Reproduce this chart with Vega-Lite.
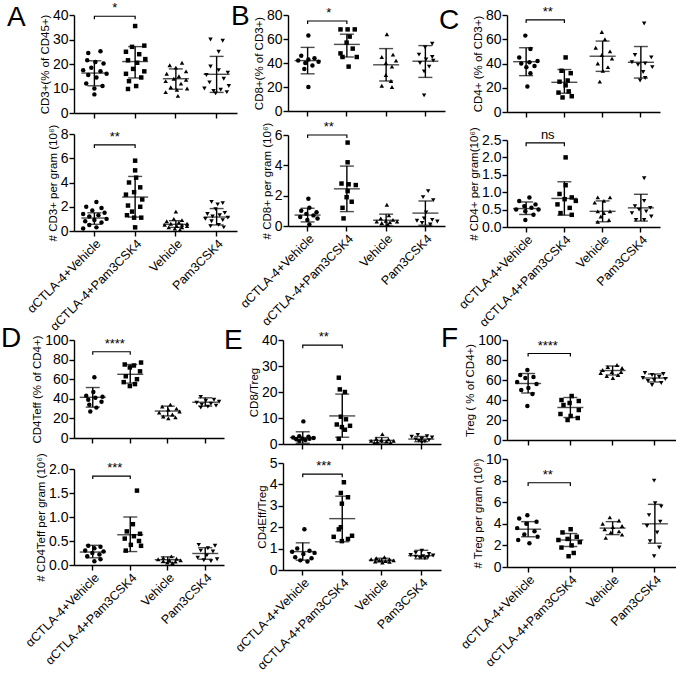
{
"$schema":"https://vega.github.io/schema/vega-lite/v6.json",
"padding":{"left":1,"top":2,"right":0,"bottom":0},
"config":{"font":"Liberation Sans","view":{"stroke":null},
"axis":{"grid":false,"domainColor":"#000","tickColor":"#000","labelColor":"#000","titleColor":"#000","domainWidth":1.4,"tickWidth":1.4,"tickSize":5,"labelFontSize":14,"titleFontSize":11.5,"titleFontWeight":"normal","labelPadding":1,"titlePadding":2,"labelOverlap":false,"labelFlush":false},
"title":{"fontSize":28,"fontWeight":"normal","anchor":"start","frame":"group","color":"#000","offset":0,"baseline":"alphabetic"}},
"spacing":-8,
"vconcat":[
{"spacing":-6,"hconcat":[
{"title":{"text":"A","dx":-67,"dy":34},"bounds":"flush","spacing":21,"vconcat":[
{"width":163,"height":98,"data":{"values":[{"g":"a","m":16.3,"lo":11.1,"hi":21.3},{"g":"b","m":21,"lo":14.3,"hi":27.1},{"g":"c","m":14,"lo":9.7,"hi":18},{"g":"d","m":15.8,"lo":8.4,"hi":23.1}]},
"encoding":{"x":{"field":"g","type":"nominal","scale":{"type":"band","domain":["a","b","c","d"],"paddingInner":0,"paddingOuter":0},"axis":{"title":null,"labels":false}}},
"layer":[
{"mark":{"type":"rule","color":"#000","strokeWidth":1.4},"encoding":{"y":{"field":"lo","type":"quantitative","scale":{"domain":[0,40],"nice":false},"axis":{"title":"CD3+(% of CD45+)","values":[0,10,20,30,40],"labelOverlap":false}},"y2":{"field":"hi"}}},
{"mark":{"type":"tick","color":"#000","size":14,"thickness":1.4},"encoding":{"y":{"field":"lo","type":"quantitative","scale":{"domain":[0,40],"nice":false},"axis":{"title":"CD3+(% of CD45+)","values":[0,10,20,30,40],"labelOverlap":false}}}},
{"mark":{"type":"tick","color":"#000","size":14,"thickness":1.4},"encoding":{"y":{"field":"hi","type":"quantitative","scale":{"domain":[0,40],"nice":false},"axis":{"title":"CD3+(% of CD45+)","values":[0,10,20,30,40],"labelOverlap":false}}}},
{"mark":{"type":"tick","color":"#000","size":26,"thickness":1.4},"encoding":{"y":{"field":"m","type":"quantitative","scale":{"domain":[0,40],"nice":false},"axis":{"title":"CD3+(% of CD45+)","values":[0,10,20,30,40],"labelOverlap":false}}}},
{"data":{"values":[
{"g":"a","v":25.2,"j":0.3},{"g":"a","v":24.5,"j":-0.3},{"g":"a","v":21.5,"j":-0.35},{"g":"a","v":20.8,"j":0.05},{"g":"a","v":20.2,"j":0.45},{"g":"a","v":18.5,"j":-0.15},{"g":"a","v":17.5,"j":-0.55},{"g":"a","v":17,"j":0.3},{"g":"a","v":16,"j":0.6},{"g":"a","v":15.5,"j":-0.3},{"g":"a","v":14.5,"j":0.1},{"g":"a","v":12,"j":-0.4},{"g":"a","v":11,"j":0.4},{"g":"a","v":10,"j":0},{"g":"a","v":7.6,"j":0},
{"g":"b","v":35.5,"j":0},{"g":"b","v":27.5,"j":0.45},{"g":"b","v":27,"j":-0.15},{"g":"b","v":25,"j":-0.45},{"g":"b","v":24,"j":0.2},{"g":"b","v":22,"j":0.5},{"g":"b","v":21.5,"j":-0.35},{"g":"b","v":20.5,"j":0.1},{"g":"b","v":18,"j":-0.1},{"g":"b","v":17,"j":0.45},{"g":"b","v":16,"j":-0.45},{"g":"b","v":14.5,"j":0.3},{"g":"b","v":13,"j":-0.3},{"g":"b","v":11,"j":0.05},{"g":"b","v":9.8,"j":-0.35},
{"g":"c","v":20.5,"j":0.3},{"g":"c","v":19.5,"j":-0.3},{"g":"c","v":18.5,"j":0},{"g":"c","v":17,"j":0.5},{"g":"c","v":16,"j":-0.45},{"g":"c","v":15,"j":0.15},{"g":"c","v":14,"j":-0.1},{"g":"c","v":13.5,"j":0.5},{"g":"c","v":13,"j":-0.5},{"g":"c","v":12,"j":0.25},{"g":"c","v":10.5,"j":-0.25},{"g":"c","v":10,"j":0.55},{"g":"c","v":9.5,"j":0.05},{"g":"c","v":8.5,"j":-0.5},{"g":"c","v":7,"j":0.1},
{"g":"d","v":30,"j":-0.3},{"g":"d","v":29.5,"j":0.3},{"g":"d","v":25,"j":0.1},{"g":"d","v":19,"j":-0.3},{"g":"d","v":17.5,"j":0.1},{"g":"d","v":16.5,"j":0.55},{"g":"d","v":15.5,"j":-0.5},{"g":"d","v":14,"j":0.35},{"g":"d","v":12.5,"j":-0.35},{"g":"d","v":11,"j":0.6},{"g":"d","v":10,"j":-0.6},{"g":"d","v":9.5,"j":0.2},{"g":"d","v":9,"j":-0.15},{"g":"d","v":8.5,"j":0.5},{"g":"d","v":8,"j":-0.05}]},
"mark":{"type":"point","filled":true,"color":"#000","size":20,"opacity":1},
"encoding":{"y":{"field":"v","type":"quantitative","scale":{"domain":[0,40],"nice":false},"axis":{"title":"CD3+(% of CD45+)","values":[0,10,20,30,40],"labelOverlap":false}},"xOffset":{"field":"j","type":"quantitative","scale":{"domain":[-1,1]}},"shape":{"field":"g","type":"nominal","scale":{"domain":["a","b","c","d"],"range":["circle","square","triangle-up","triangle-down"]},"legend":null}}},
{"data":{"values":[{"g":"a","v":38.3,"i":0},{"g":"a","v":39.5,"i":1},{"g":"b","v":39.5,"i":2},{"g":"b","v":38.3,"i":3}]},"mark":{"type":"line","color":"#000","strokeWidth":1.2},"encoding":{"y":{"field":"v","type":"quantitative","scale":{"domain":[0,40],"nice":false},"axis":{"title":"CD3+(% of CD45+)","values":[0,10,20,30,40],"labelOverlap":false}},"order":{"field":"i","type":"quantitative"}}},
{"data":{"values":[{"g":"a","j":1,"v":39.5,"t":"*"}]},"mark":{"type":"text","baseline":"bottom","dy":-1,"fontSize":13,"color":"#000"},"encoding":{"y":{"field":"v","type":"quantitative","scale":{"domain":[0,40],"nice":false},"axis":{"title":"CD3+(% of CD45+)","values":[0,10,20,30,40],"labelOverlap":false}},"xOffset":{"field":"j","type":"quantitative","scale":{"domain":[-1,1]}},"text":{"field":"t"}}}
]},
{"width":163,"height":97,"data":{"values":[{"g":"a","m":1.07,"lo":0.55,"hi":1.5},{"g":"b","m":2.8,"lo":1.15,"hi":4.5},{"g":"c","m":0.55,"lo":0.3,"hi":0.85},{"g":"d","m":1.15,"lo":0.5,"hi":1.85}]},
"encoding":{"x":{"field":"g","type":"nominal","scale":{"type":"band","domain":["a","b","c","d"],"paddingInner":0,"paddingOuter":0},"axis":{"title":null,"labelAngle":-45,"labelFontSize":12.5,"labelPadding":1,"labelExpr":"datum.value=='a'?'αCTLA-4+Vehicle':datum.value=='b'?'αCTLA-4+Pam3CSK4':datum.value=='c'?'Vehicle':'Pam3CSK4'"}}},
"layer":[
{"mark":{"type":"rule","color":"#000","strokeWidth":1.4},"encoding":{"y":{"field":"lo","type":"quantitative","scale":{"domain":[0,8],"nice":false},"axis":{"title":"# CD3+ per gram (10⁶)","values":[0,2,4,6,8],"labelOverlap":false}},"y2":{"field":"hi"}}},
{"mark":{"type":"tick","color":"#000","size":14,"thickness":1.4},"encoding":{"y":{"field":"lo","type":"quantitative","scale":{"domain":[0,8],"nice":false},"axis":{"title":"# CD3+ per gram (10⁶)","values":[0,2,4,6,8],"labelOverlap":false}}}},
{"mark":{"type":"tick","color":"#000","size":14,"thickness":1.4},"encoding":{"y":{"field":"hi","type":"quantitative","scale":{"domain":[0,8],"nice":false},"axis":{"title":"# CD3+ per gram (10⁶)","values":[0,2,4,6,8],"labelOverlap":false}}}},
{"mark":{"type":"tick","color":"#000","size":26,"thickness":1.4},"encoding":{"y":{"field":"m","type":"quantitative","scale":{"domain":[0,8],"nice":false},"axis":{"title":"# CD3+ per gram (10⁶)","values":[0,2,4,6,8],"labelOverlap":false}}}},
{"data":{"values":[
{"g":"a","v":2.4,"j":0.1},{"g":"a","v":2.0,"j":-0.4},{"g":"a","v":1.9,"j":0.35},{"g":"a","v":1.7,"j":-0.1},{"g":"a","v":1.5,"j":0.5},{"g":"a","v":1.4,"j":-0.55},{"g":"a","v":1.3,"j":0.2},{"g":"a","v":1.2,"j":-0.25},{"g":"a","v":1.0,"j":0.6},{"g":"a","v":0.9,"j":0},{"g":"a","v":0.8,"j":-0.45},{"g":"a","v":0.7,"j":0.35},{"g":"a","v":0.5,"j":-0.25},{"g":"a","v":0.3,"j":0.1},{"g":"a","v":0.2,"j":-0.55},
{"g":"b","v":5.8,"j":0},{"g":"b","v":5.0,"j":0},{"g":"b","v":4.4,"j":0.05},{"g":"b","v":4.0,"j":-0.3},{"g":"b","v":3.6,"j":0.25},{"g":"b","v":3.2,"j":-0.05},{"g":"b","v":3.0,"j":-0.45},{"g":"b","v":2.6,"j":0.35},{"g":"b","v":2.1,"j":-0.35},{"g":"b","v":2.0,"j":0.25},{"g":"b","v":1.6,"j":-0.15},{"g":"b","v":1.3,"j":-0.4},{"g":"b","v":1.1,"j":0.3},{"g":"b","v":1.1,"j":-0.05},{"g":"b","v":0.3,"j":0},
{"g":"c","v":1.6,"j":0},{"g":"c","v":1.0,"j":-0.1},{"g":"c","v":0.9,"j":0.3},{"g":"c","v":0.8,"j":-0.45},{"g":"c","v":0.7,"j":0.15},{"g":"c","v":0.6,"j":0.55},{"g":"c","v":0.6,"j":-0.25},{"g":"c","v":0.5,"j":0.3},{"g":"c","v":0.5,"j":-0.55},{"g":"c","v":0.4,"j":0.05},{"g":"c","v":0.4,"j":0.55},{"g":"c","v":0.3,"j":-0.35},{"g":"c","v":0.3,"j":0.3},{"g":"c","v":0.2,"j":-0.05},{"g":"c","v":0.1,"j":0.2},
{"g":"d","v":2.4,"j":-0.25},{"g":"d","v":2.3,"j":0.3},{"g":"d","v":2.2,"j":0.05},{"g":"d","v":1.8,"j":-0.05},{"g":"d","v":1.5,"j":0.4},{"g":"d","v":1.4,"j":-0.45},{"g":"d","v":1.3,"j":0.15},{"g":"d","v":1.2,"j":-0.2},{"g":"d","v":1.1,"j":0.55},{"g":"d","v":1.0,"j":-0.55},{"g":"d","v":0.9,"j":0.3},{"g":"d","v":0.8,"j":-0.25},{"g":"d","v":0.5,"j":0.1},{"g":"d","v":0.4,"j":-0.3},{"g":"d","v":0.3,"j":0.35}]},
"mark":{"type":"point","filled":true,"color":"#000","size":20,"opacity":1},
"encoding":{"y":{"field":"v","type":"quantitative","scale":{"domain":[0,8],"nice":false},"axis":{"title":"# CD3+ per gram (10⁶)","values":[0,2,4,6,8],"labelOverlap":false}},"xOffset":{"field":"j","type":"quantitative","scale":{"domain":[-1,1]}},"shape":{"field":"g","type":"nominal","scale":{"domain":["a","b","c","d"],"range":["circle","square","triangle-up","triangle-down"]},"legend":null}}},
{"data":{"values":[{"g":"a","v":6.85,"i":0},{"g":"a","v":7.1,"i":1},{"g":"b","v":7.1,"i":2},{"g":"b","v":6.85,"i":3}]},"mark":{"type":"line","color":"#000","strokeWidth":1.2},"encoding":{"y":{"field":"v","type":"quantitative","scale":{"domain":[0,8],"nice":false},"axis":{"title":"# CD3+ per gram (10⁶)","values":[0,2,4,6,8],"labelOverlap":false}},"order":{"field":"i","type":"quantitative"}}},
{"data":{"values":[{"g":"a","j":1,"v":7.1,"t":"**"}]},"mark":{"type":"text","baseline":"bottom","dy":-1,"fontSize":13,"color":"#000"},"encoding":{"y":{"field":"v","type":"quantitative","scale":{"domain":[0,8],"nice":false},"axis":{"title":"# CD3+ per gram (10⁶)","values":[0,2,4,6,8],"labelOverlap":false}},"xOffset":{"field":"j","type":"quantitative","scale":{"domain":[-1,1]}},"text":{"field":"t"}}}
]}]},
{"title":{"text":"B","dx":-57,"dy":28},"bounds":"flush","spacing":24,"vconcat":[
{"width":157,"height":96,"data":{"values":[{"g":"a","m":42,"lo":31,"hi":53},{"g":"b","m":55.5,"lo":45,"hi":64},{"g":"c","m":38.5,"lo":25,"hi":52},{"g":"d","m":41.5,"lo":28,"hi":54.5}]},
"encoding":{"x":{"field":"g","type":"nominal","scale":{"type":"band","domain":["a","b","c","d"],"paddingInner":0,"paddingOuter":0},"axis":{"title":null,"labels":false}}},
"layer":[
{"mark":{"type":"rule","color":"#000","strokeWidth":1.4},"encoding":{"y":{"field":"lo","type":"quantitative","scale":{"domain":[0,80],"nice":false},"axis":{"title":"CD8+(% of CD3+)","values":[0,20,40,60,80],"labelOverlap":false}},"y2":{"field":"hi"}}},
{"mark":{"type":"tick","color":"#000","size":14,"thickness":1.4},"encoding":{"y":{"field":"lo","type":"quantitative","scale":{"domain":[0,80],"nice":false},"axis":{"title":"CD8+(% of CD3+)","values":[0,20,40,60,80],"labelOverlap":false}}}},
{"mark":{"type":"tick","color":"#000","size":14,"thickness":1.4},"encoding":{"y":{"field":"hi","type":"quantitative","scale":{"domain":[0,80],"nice":false},"axis":{"title":"CD8+(% of CD3+)","values":[0,20,40,60,80],"labelOverlap":false}}}},
{"mark":{"type":"tick","color":"#000","size":26,"thickness":1.4},"encoding":{"y":{"field":"m","type":"quantitative","scale":{"domain":[0,80],"nice":false},"axis":{"title":"CD8+(% of CD3+)","values":[0,20,40,60,80],"labelOverlap":false}}}},
{"data":{"values":[
{"g":"a","v":63,"j":0},{"g":"a","v":46,"j":-0.35},{"g":"a","v":44,"j":0.3},{"g":"a","v":43,"j":0},{"g":"a","v":42,"j":-0.5},{"g":"a","v":41,"j":0.5},{"g":"a","v":40,"j":-0.15},{"g":"a","v":38,"j":0.2},{"g":"a","v":35,"j":-0.2},{"g":"a","v":20,"j":0},
{"g":"b","v":68,"j":-0.35},{"g":"b","v":68,"j":0},{"g":"b","v":68,"j":0.35},{"g":"b","v":62,"j":0.1},{"g":"b","v":57,"j":-0.05},{"g":"b","v":52,"j":0.25},{"g":"b","v":48,"j":-0.35},{"g":"b","v":45,"j":0.45},{"g":"b","v":45,"j":-0.25},{"g":"b","v":37,"j":0.05},
{"g":"c","v":64,"j":0},{"g":"c","v":47,"j":0.3},{"g":"c","v":45,"j":-0.25},{"g":"c","v":42,"j":0.45},{"g":"c","v":40,"j":-0.05},{"g":"c","v":37,"j":0.25},{"g":"c","v":30,"j":-0.05},{"g":"c","v":25,"j":0.2},{"g":"c","v":21,"j":-0.25},{"g":"c","v":20,"j":0.25},
{"g":"d","v":56,"j":0.3},{"g":"d","v":53,"j":-0.05},{"g":"d","v":47,"j":-0.35},{"g":"d","v":45,"j":0.3},{"g":"d","v":43,"j":0},{"g":"d","v":42,"j":0.35},{"g":"d","v":40,"j":-0.3},{"g":"d","v":37,"j":0.15},{"g":"d","v":33,"j":-0.1},{"g":"d","v":13,"j":-0.1}]},
"mark":{"type":"point","filled":true,"color":"#000","size":20,"opacity":1},
"encoding":{"y":{"field":"v","type":"quantitative","scale":{"domain":[0,80],"nice":false},"axis":{"title":"CD8+(% of CD3+)","values":[0,20,40,60,80],"labelOverlap":false}},"xOffset":{"field":"j","type":"quantitative","scale":{"domain":[-1,1]}},"shape":{"field":"g","type":"nominal","scale":{"domain":["a","b","c","d"],"range":["circle","square","triangle-up","triangle-down"]},"legend":null}}},
{"data":{"values":[{"g":"a","v":72.5,"i":0},{"g":"a","v":75,"i":1},{"g":"b","v":75,"i":2},{"g":"b","v":72.5,"i":3}]},"mark":{"type":"line","color":"#000","strokeWidth":1.2},"encoding":{"y":{"field":"v","type":"quantitative","scale":{"domain":[0,80],"nice":false},"axis":{"title":"CD8+(% of CD3+)","values":[0,20,40,60,80],"labelOverlap":false}},"order":{"field":"i","type":"quantitative"}}},
{"data":{"values":[{"g":"a","j":1,"v":75,"t":"*"}]},"mark":{"type":"text","baseline":"bottom","dy":-1,"fontSize":13,"color":"#000"},"encoding":{"y":{"field":"v","type":"quantitative","scale":{"domain":[0,80],"nice":false},"axis":{"title":"CD8+(% of CD3+)","values":[0,20,40,60,80],"labelOverlap":false}},"xOffset":{"field":"j","type":"quantitative","scale":{"domain":[-1,1]}},"text":{"field":"t"}}}
]},
{"width":157,"height":91,"data":{"values":[{"g":"a","m":0.72,"lo":0.27,"hi":1.17},{"g":"b","m":2.45,"lo":0.95,"hi":3.95},{"g":"c","m":0.38,"lo":0,"hi":0.78},{"g":"d","m":0.85,"lo":0.05,"hi":1.65}]},
"encoding":{"x":{"field":"g","type":"nominal","scale":{"type":"band","domain":["a","b","c","d"],"paddingInner":0,"paddingOuter":0},"axis":{"title":null,"labelAngle":-45,"labelFontSize":12.5,"labelPadding":1,"labelExpr":"datum.value=='a'?'αCTLA-4+Vehicle':datum.value=='b'?'αCTLA-4+Pam3CSK4':datum.value=='c'?'Vehicle':'Pam3CSK4'"}}},
"layer":[
{"mark":{"type":"rule","color":"#000","strokeWidth":1.4},"encoding":{"y":{"field":"lo","type":"quantitative","scale":{"domain":[0,6],"nice":false},"axis":{"title":"# CD8+ per gram (10⁶)","values":[0,2,4,6],"labelOverlap":false}},"y2":{"field":"hi"}}},
{"mark":{"type":"tick","color":"#000","size":14,"thickness":1.4},"encoding":{"y":{"field":"lo","type":"quantitative","scale":{"domain":[0,6],"nice":false},"axis":{"title":"# CD8+ per gram (10⁶)","values":[0,2,4,6],"labelOverlap":false}}}},
{"mark":{"type":"tick","color":"#000","size":14,"thickness":1.4},"encoding":{"y":{"field":"hi","type":"quantitative","scale":{"domain":[0,6],"nice":false},"axis":{"title":"# CD8+ per gram (10⁶)","values":[0,2,4,6],"labelOverlap":false}}}},
{"mark":{"type":"tick","color":"#000","size":26,"thickness":1.4},"encoding":{"y":{"field":"m","type":"quantitative","scale":{"domain":[0,6],"nice":false},"axis":{"title":"# CD8+ per gram (10⁶)","values":[0,2,4,6],"labelOverlap":false}}}},
{"data":{"values":[
{"g":"a","v":1.8,"j":0},{"g":"a","v":1.2,"j":0.05},{"g":"a","v":1.0,"j":-0.35},{"g":"a","v":0.9,"j":0.4},{"g":"a","v":0.8,"j":-0.1},{"g":"a","v":0.7,"j":0.25},{"g":"a","v":0.6,"j":-0.4},{"g":"a","v":0.5,"j":0.45},{"g":"a","v":0.4,"j":-0.05},{"g":"a","v":0.1,"j":0.05},
{"g":"b","v":5.5,"j":0},{"g":"b","v":4.2,"j":0},{"g":"b","v":2.8,"j":-0.3},{"g":"b","v":2.75,"j":0.05},{"g":"b","v":2.7,"j":0.4},{"g":"b","v":2.3,"j":0},{"g":"b","v":1.9,"j":-0.05},{"g":"b","v":1.6,"j":0.2},{"g":"b","v":1.2,"j":-0.25},{"g":"b","v":0.5,"j":-0.2},
{"g":"c","v":1.4,"j":0},{"g":"c","v":0.7,"j":0.1},{"g":"c","v":0.5,"j":-0.3},{"g":"c","v":0.4,"j":0.3},{"g":"c","v":0.35,"j":-0.05},{"g":"c","v":0.3,"j":0.5},{"g":"c","v":0.3,"j":-0.5},{"g":"c","v":0.25,"j":0.15},{"g":"c","v":0.2,"j":-0.25},{"g":"c","v":0.1,"j":0.05},
{"g":"d","v":2.3,"j":0.1},{"g":"d","v":1.9,"j":-0.15},{"g":"d","v":1.7,"j":0.35},{"g":"d","v":0.9,"j":0},{"g":"d","v":0.5,"j":-0.1},{"g":"d","v":0.4,"j":0.3},{"g":"d","v":0.35,"j":-0.45},{"g":"d","v":0.3,"j":0.55},{"g":"d","v":0.2,"j":-0.2},{"g":"d","v":0.1,"j":0.2}]},
"mark":{"type":"point","filled":true,"color":"#000","size":20,"opacity":1},
"encoding":{"y":{"field":"v","type":"quantitative","scale":{"domain":[0,6],"nice":false},"axis":{"title":"# CD8+ per gram (10⁶)","values":[0,2,4,6],"labelOverlap":false}},"xOffset":{"field":"j","type":"quantitative","scale":{"domain":[-1,1]}},"shape":{"field":"g","type":"nominal","scale":{"domain":["a","b","c","d"],"range":["circle","square","triangle-up","triangle-down"]},"legend":null}}},
{"data":{"values":[{"g":"a","v":5.8,"i":0},{"g":"a","v":6.0,"i":1},{"g":"b","v":6.0,"i":2},{"g":"b","v":5.8,"i":3}]},"mark":{"type":"line","color":"#000","strokeWidth":1.2},"encoding":{"y":{"field":"v","type":"quantitative","scale":{"domain":[0,6],"nice":false},"axis":{"title":"# CD8+ per gram (10⁶)","values":[0,2,4,6],"labelOverlap":false}},"order":{"field":"i","type":"quantitative"}}},
{"data":{"values":[{"g":"a","j":1,"v":6.0,"t":"**"}]},"mark":{"type":"text","baseline":"bottom","dy":-1,"fontSize":13,"color":"#000"},"encoding":{"y":{"field":"v","type":"quantitative","scale":{"domain":[0,6],"nice":false},"axis":{"title":"# CD8+ per gram (10⁶)","values":[0,2,4,6],"labelOverlap":false}},"xOffset":{"field":"j","type":"quantitative","scale":{"domain":[-1,1]}},"text":{"field":"t"}}}
]}]},
{"title":{"text":"C","dx":-68,"dy":33},"bounds":"flush","spacing":28,"vconcat":[
{"width":153,"height":97,"data":{"values":[{"g":"a","m":41.5,"lo":30,"hi":53},{"g":"b","m":24.5,"lo":15.5,"hi":35},{"g":"c","m":46,"lo":33.5,"hi":58.5},{"g":"d","m":41,"lo":28,"hi":54}]},
"encoding":{"x":{"field":"g","type":"nominal","scale":{"type":"band","domain":["a","b","c","d"],"paddingInner":0,"paddingOuter":0},"axis":{"title":null,"labels":false}}},
"layer":[
{"mark":{"type":"rule","color":"#000","strokeWidth":1.4},"encoding":{"y":{"field":"lo","type":"quantitative","scale":{"domain":[0,80],"nice":false},"axis":{"title":"CD4+ (% of CD3+)","values":[0,20,40,60,80],"labelOverlap":false}},"y2":{"field":"hi"}}},
{"mark":{"type":"tick","color":"#000","size":14,"thickness":1.4},"encoding":{"y":{"field":"lo","type":"quantitative","scale":{"domain":[0,80],"nice":false},"axis":{"title":"CD4+ (% of CD3+)","values":[0,20,40,60,80],"labelOverlap":false}}}},
{"mark":{"type":"tick","color":"#000","size":14,"thickness":1.4},"encoding":{"y":{"field":"hi","type":"quantitative","scale":{"domain":[0,80],"nice":false},"axis":{"title":"CD4+ (% of CD3+)","values":[0,20,40,60,80],"labelOverlap":false}}}},
{"mark":{"type":"tick","color":"#000","size":26,"thickness":1.4},"encoding":{"y":{"field":"m","type":"quantitative","scale":{"domain":[0,80],"nice":false},"axis":{"title":"CD4+ (% of CD3+)","values":[0,20,40,60,80],"labelOverlap":false}}}},
{"data":{"values":[
{"g":"a","v":63,"j":-0.1},{"g":"a","v":52,"j":0.15},{"g":"a","v":45,"j":-0.4},{"g":"a","v":42,"j":0.5},{"g":"a","v":41,"j":0.1},{"g":"a","v":40,"j":-0.3},{"g":"a","v":38,"j":0.35},{"g":"a","v":37,"j":-0.05},{"g":"a","v":32,"j":0.15},{"g":"a","v":21,"j":0},
{"g":"b","v":45,"j":0},{"g":"b","v":34,"j":-0.2},{"g":"b","v":32,"j":0.25},{"g":"b","v":26,"j":0.1},{"g":"b","v":25,"j":-0.3},{"g":"b","v":22,"j":0},{"g":"b","v":17,"j":0.15},{"g":"b","v":16,"j":-0.35},{"g":"b","v":13,"j":0.3},{"g":"b","v":12,"j":-0.15},
{"g":"c","v":66,"j":-0.1},{"g":"c","v":60,"j":0.05},{"g":"c","v":53,"j":-0.4},{"g":"c","v":50,"j":0.3},{"g":"c","v":47,"j":-0.1},{"g":"c","v":44,"j":0.4},{"g":"c","v":40,"j":-0.3},{"g":"c","v":37,"j":0.2},{"g":"c","v":34,"j":-0.05},{"g":"c","v":25,"j":-0.2},
{"g":"d","v":73,"j":0.1},{"g":"d","v":47,"j":-0.35},{"g":"d","v":45,"j":0.45},{"g":"d","v":41,"j":-0.5},{"g":"d","v":40,"j":0.15},{"g":"d","v":39,"j":-0.2},{"g":"d","v":37,"j":0.5},{"g":"d","v":33,"j":0.05},{"g":"d","v":28,"j":0.15},{"g":"d","v":26,"j":-0.1}]},
"mark":{"type":"point","filled":true,"color":"#000","size":20,"opacity":1},
"encoding":{"y":{"field":"v","type":"quantitative","scale":{"domain":[0,80],"nice":false},"axis":{"title":"CD4+ (% of CD3+)","values":[0,20,40,60,80],"labelOverlap":false}},"xOffset":{"field":"j","type":"quantitative","scale":{"domain":[-1,1]}},"shape":{"field":"g","type":"nominal","scale":{"domain":["a","b","c","d"],"range":["circle","square","triangle-up","triangle-down"]},"legend":null}}},
{"data":{"values":[{"g":"a","v":73.5,"i":0},{"g":"a","v":76,"i":1},{"g":"b","v":76,"i":2},{"g":"b","v":73.5,"i":3}]},"mark":{"type":"line","color":"#000","strokeWidth":1.2},"encoding":{"y":{"field":"v","type":"quantitative","scale":{"domain":[0,80],"nice":false},"axis":{"title":"CD4+ (% of CD3+)","values":[0,20,40,60,80],"labelOverlap":false}},"order":{"field":"i","type":"quantitative"}}},
{"data":{"values":[{"g":"a","j":1,"v":76,"t":"**"}]},"mark":{"type":"text","baseline":"bottom","dy":-1,"fontSize":13,"color":"#000"},"encoding":{"y":{"field":"v","type":"quantitative","scale":{"domain":[0,80],"nice":false},"axis":{"title":"CD4+ (% of CD3+)","values":[0,20,40,60,80],"labelOverlap":false}},"xOffset":{"field":"j","type":"quantitative","scale":{"domain":[-1,1]}},"text":{"field":"t"}}}
]},
{"width":153,"height":87,"data":{"values":[{"g":"a","m":0.53,"lo":0.36,"hi":0.72},{"g":"b","m":0.82,"lo":0.34,"hi":1.3},{"g":"c","m":0.45,"lo":0.15,"hi":0.75},{"g":"d","m":0.55,"lo":0.17,"hi":0.94}]},
"encoding":{"x":{"field":"g","type":"nominal","scale":{"type":"band","domain":["a","b","c","d"],"paddingInner":0,"paddingOuter":0},"axis":{"title":null,"labelAngle":-45,"labelFontSize":12.5,"labelPadding":1,"labelExpr":"datum.value=='a'?'αCTLA-4+Vehicle':datum.value=='b'?'αCTLA-4+Pam3CSK4':datum.value=='c'?'Vehicle':'Pam3CSK4'"}}},
"layer":[
{"mark":{"type":"rule","color":"#000","strokeWidth":1.4},"encoding":{"y":{"field":"lo","type":"quantitative","scale":{"domain":[0,2.5],"nice":false},"axis":{"title":"# CD4+ per gram(10⁶)","values":[0,0.5,1,1.5,2,2.5],"format":".1f","labelOverlap":false}},"y2":{"field":"hi"}}},
{"mark":{"type":"tick","color":"#000","size":14,"thickness":1.4},"encoding":{"y":{"field":"lo","type":"quantitative","scale":{"domain":[0,2.5],"nice":false},"axis":{"title":"# CD4+ per gram(10⁶)","values":[0,0.5,1,1.5,2,2.5],"format":".1f","labelOverlap":false}}}},
{"mark":{"type":"tick","color":"#000","size":14,"thickness":1.4},"encoding":{"y":{"field":"hi","type":"quantitative","scale":{"domain":[0,2.5],"nice":false},"axis":{"title":"# CD4+ per gram(10⁶)","values":[0,0.5,1,1.5,2,2.5],"format":".1f","labelOverlap":false}}}},
{"mark":{"type":"tick","color":"#000","size":26,"thickness":1.4},"encoding":{"y":{"field":"m","type":"quantitative","scale":{"domain":[0,2.5],"nice":false},"axis":{"title":"# CD4+ per gram(10⁶)","values":[0,0.5,1,1.5,2,2.5],"format":".1f","labelOverlap":false}}}},
{"data":{"values":[
{"g":"a","v":0.85,"j":0.1},{"g":"a","v":0.75,"j":-0.4},{"g":"a","v":0.65,"j":0.4},{"g":"a","v":0.6,"j":-0.15},{"g":"a","v":0.55,"j":0.2},{"g":"a","v":0.5,"j":-0.55},{"g":"a","v":0.5,"j":0.55},{"g":"a","v":0.45,"j":-0.1},{"g":"a","v":0.35,"j":0.3},{"g":"a","v":0.2,"j":-0.1},
{"g":"b","v":2.0,"j":0},{"g":"b","v":1.2,"j":0},{"g":"b","v":0.95,"j":-0.3},{"g":"b","v":0.85,"j":0.3},{"g":"b","v":0.8,"j":-0.05},{"g":"b","v":0.75,"j":0.5},{"g":"b","v":0.65,"j":-0.4},{"g":"b","v":0.55,"j":0.2},{"g":"b","v":0.4,"j":-0.25},{"g":"b","v":0.35,"j":0.3},
{"g":"c","v":0.85,"j":-0.3},{"g":"c","v":0.85,"j":0.3},{"g":"c","v":0.75,"j":0},{"g":"c","v":0.7,"j":-0.45},{"g":"c","v":0.45,"j":-0.3},{"g":"c","v":0.45,"j":0.3},{"g":"c","v":0.4,"j":0},{"g":"c","v":0.3,"j":-0.15},{"g":"c","v":0.2,"j":0.25},{"g":"c","v":0.15,"j":-0.3},
{"g":"d","v":1.4,"j":0.1},{"g":"d","v":0.75,"j":0.1},{"g":"d","v":0.6,"j":-0.35},{"g":"d","v":0.55,"j":0.4},{"g":"d","v":0.5,"j":-0.15},{"g":"d","v":0.45,"j":0.2},{"g":"d","v":0.4,"j":-0.5},{"g":"d","v":0.3,"j":0.45},{"g":"d","v":0.2,"j":-0.3},{"g":"d","v":0.2,"j":0.1}]},
"mark":{"type":"point","filled":true,"color":"#000","size":20,"opacity":1},
"encoding":{"y":{"field":"v","type":"quantitative","scale":{"domain":[0,2.5],"nice":false},"axis":{"title":"# CD4+ per gram(10⁶)","values":[0,0.5,1,1.5,2,2.5],"format":".1f","labelOverlap":false}},"xOffset":{"field":"j","type":"quantitative","scale":{"domain":[-1,1]}},"shape":{"field":"g","type":"nominal","scale":{"domain":["a","b","c","d"],"range":["circle","square","triangle-up","triangle-down"]},"legend":null}}},
{"data":{"values":[{"g":"a","v":2.32,"i":0},{"g":"a","v":2.42,"i":1},{"g":"b","v":2.42,"i":2},{"g":"b","v":2.32,"i":3}]},"mark":{"type":"line","color":"#000","strokeWidth":1.2},"encoding":{"y":{"field":"v","type":"quantitative","scale":{"domain":[0,2.5],"nice":false},"axis":{"title":"# CD4+ per gram(10⁶)","values":[0,0.5,1,1.5,2,2.5],"format":".1f","labelOverlap":false}},"order":{"field":"i","type":"quantitative"}}},
{"data":{"values":[{"g":"a","j":1,"v":2.42,"t":"ns"}]},"mark":{"type":"text","baseline":"bottom","dy":-1,"fontSize":13,"color":"#000"},"encoding":{"y":{"field":"v","type":"quantitative","scale":{"domain":[0,2.5],"nice":false},"axis":{"title":"# CD4+ per gram(10⁶)","values":[0,0.5,1,1.5,2,2.5],"format":".1f","labelOverlap":false}},"xOffset":{"field":"j","type":"quantitative","scale":{"domain":[-1,1]}},"text":{"field":"t"}}}
]}]}
]},
{"spacing":0,"hconcat":[
{"title":{"text":"D","dx":-73,"dy":24},"bounds":"flush","spacing":31,"vconcat":[
{"width":150,"height":98,"data":{"values":[{"g":"a","m":41.5,"lo":31.5,"hi":51.5},{"g":"b","m":65,"lo":56,"hi":75},{"g":"c","m":27.5,"lo":22.5,"hi":32.5},{"g":"d","m":36.5,"lo":32.5,"hi":41}]},
"encoding":{"x":{"field":"g","type":"nominal","scale":{"type":"band","domain":["a","b","c","d"],"paddingInner":0,"paddingOuter":0},"axis":{"title":null,"labels":false}}},
"layer":[
{"mark":{"type":"rule","color":"#000","strokeWidth":1.4},"encoding":{"y":{"field":"lo","type":"quantitative","scale":{"domain":[0,100],"nice":false},"axis":{"title":"CD4Teff (% of CD4+)","values":[0,20,40,60,80,100],"labelOverlap":false}},"y2":{"field":"hi"}}},
{"mark":{"type":"tick","color":"#000","size":14,"thickness":1.4},"encoding":{"y":{"field":"lo","type":"quantitative","scale":{"domain":[0,100],"nice":false},"axis":{"title":"CD4Teff (% of CD4+)","values":[0,20,40,60,80,100],"labelOverlap":false}}}},
{"mark":{"type":"tick","color":"#000","size":14,"thickness":1.4},"encoding":{"y":{"field":"hi","type":"quantitative","scale":{"domain":[0,100],"nice":false},"axis":{"title":"CD4Teff (% of CD4+)","values":[0,20,40,60,80,100],"labelOverlap":false}}}},
{"mark":{"type":"tick","color":"#000","size":26,"thickness":1.4},"encoding":{"y":{"field":"m","type":"quantitative","scale":{"domain":[0,100],"nice":false},"axis":{"title":"CD4Teff (% of CD4+)","values":[0,20,40,60,80,100],"labelOverlap":false}}}},
{"data":{"values":[
{"g":"a","v":62,"j":0},{"g":"a","v":47,"j":-0.05},{"g":"a","v":43,"j":-0.4},{"g":"a","v":42,"j":0.4},{"g":"a","v":41,"j":0.05},{"g":"a","v":39,"j":-0.3},{"g":"a","v":37,"j":0.35},{"g":"a","v":34,"j":-0.25},{"g":"a","v":31,"j":0.1},{"g":"a","v":27,"j":-0.2},
{"g":"b","v":77,"j":0.45},{"g":"b","v":75,"j":-0.35},{"g":"b","v":74,"j":0.1},{"g":"b","v":72,"j":-0.1},{"g":"b","v":68,"j":0.4},{"g":"b","v":63,"j":-0.3},{"g":"b","v":60,"j":0.25},{"g":"b","v":57,"j":-0.4},{"g":"b","v":55,"j":0.15},{"g":"b","v":53,"j":-0.1},
{"g":"c","v":34,"j":0.05},{"g":"c","v":32,"j":-0.35},{"g":"c","v":30,"j":0.35},{"g":"c","v":29,"j":-0.05},{"g":"c","v":27,"j":0.5},{"g":"c","v":26,"j":-0.5},{"g":"c","v":24,"j":0.15},{"g":"c","v":22,"j":-0.3},{"g":"c","v":21,"j":0.3},{"g":"c","v":20,"j":-0.05},
{"g":"d","v":42,"j":-0.3},{"g":"d","v":39,"j":0.35},{"g":"d","v":38,"j":-0.05},{"g":"d","v":37,"j":0.6},{"g":"d","v":36,"j":-0.5},{"g":"d","v":35,"j":0.2},{"g":"d","v":34,"j":-0.25},{"g":"d","v":33,"j":0.45},{"g":"d","v":32,"j":0.05},{"g":"d","v":31,"j":-0.3}]},
"mark":{"type":"point","filled":true,"color":"#000","size":20,"opacity":1},
"encoding":{"y":{"field":"v","type":"quantitative","scale":{"domain":[0,100],"nice":false},"axis":{"title":"CD4Teff (% of CD4+)","values":[0,20,40,60,80,100],"labelOverlap":false}},"xOffset":{"field":"j","type":"quantitative","scale":{"domain":[-1,1]}},"shape":{"field":"g","type":"nominal","scale":{"domain":["a","b","c","d"],"range":["circle","square","triangle-up","triangle-down"]},"legend":null}}},
{"data":{"values":[{"g":"a","v":85,"i":0},{"g":"a","v":88,"i":1},{"g":"b","v":88,"i":2},{"g":"b","v":85,"i":3}]},"mark":{"type":"line","color":"#000","strokeWidth":1.2},"encoding":{"y":{"field":"v","type":"quantitative","scale":{"domain":[0,100],"nice":false},"axis":{"title":"CD4Teff (% of CD4+)","values":[0,20,40,60,80,100],"labelOverlap":false}},"order":{"field":"i","type":"quantitative"}}},
{"data":{"values":[{"g":"a","j":1,"v":88,"t":"****"}]},"mark":{"type":"text","baseline":"bottom","dy":-1,"fontSize":13,"color":"#000"},"encoding":{"y":{"field":"v","type":"quantitative","scale":{"domain":[0,100],"nice":false},"axis":{"title":"CD4Teff (% of CD4+)","values":[0,20,40,60,80,100],"labelOverlap":false}},"xOffset":{"field":"j","type":"quantitative","scale":{"domain":[-1,1]}},"text":{"field":"t"}}}
]},
{"width":150,"height":96,"data":{"values":[{"g":"a","m":0.27,"lo":0.15,"hi":0.41},{"g":"b","m":0.63,"lo":0.28,"hi":1.0},{"g":"c","m":0.11,"lo":0.05,"hi":0.17},{"g":"d","m":0.24,"lo":0.12,"hi":0.36}]},
"encoding":{"x":{"field":"g","type":"nominal","scale":{"type":"band","domain":["a","b","c","d"],"paddingInner":0,"paddingOuter":0},"axis":{"title":null,"labelAngle":-45,"labelFontSize":12.5,"labelPadding":1,"labelExpr":"datum.value=='a'?'αCTLA-4+Vehicle':datum.value=='b'?'αCTLA-4+Pam3CSK4':datum.value=='c'?'Vehicle':'Pam3CSK4'"}}},
"layer":[
{"mark":{"type":"rule","color":"#000","strokeWidth":1.4},"encoding":{"y":{"field":"lo","type":"quantitative","scale":{"domain":[0,2],"nice":false},"axis":{"title":"# CD4Teff per gram (10⁶)","values":[0,0.5,1,1.5,2],"format":".1f","labelOverlap":false}},"y2":{"field":"hi"}}},
{"mark":{"type":"tick","color":"#000","size":14,"thickness":1.4},"encoding":{"y":{"field":"lo","type":"quantitative","scale":{"domain":[0,2],"nice":false},"axis":{"title":"# CD4Teff per gram (10⁶)","values":[0,0.5,1,1.5,2],"format":".1f","labelOverlap":false}}}},
{"mark":{"type":"tick","color":"#000","size":14,"thickness":1.4},"encoding":{"y":{"field":"hi","type":"quantitative","scale":{"domain":[0,2],"nice":false},"axis":{"title":"# CD4Teff per gram (10⁶)","values":[0,0.5,1,1.5,2],"format":".1f","labelOverlap":false}}}},
{"mark":{"type":"tick","color":"#000","size":26,"thickness":1.4},"encoding":{"y":{"field":"m","type":"quantitative","scale":{"domain":[0,2],"nice":false},"axis":{"title":"# CD4Teff per gram (10⁶)","values":[0,0.5,1,1.5,2],"format":".1f","labelOverlap":false}}}},
{"data":{"values":[
{"g":"a","v":0.4,"j":-0.3},{"g":"a","v":0.38,"j":0.3},{"g":"a","v":0.35,"j":0},{"g":"a","v":0.3,"j":-0.45},{"g":"a","v":0.28,"j":0.45},{"g":"a","v":0.25,"j":-0.1},{"g":"a","v":0.22,"j":0.25},{"g":"a","v":0.18,"j":-0.35},{"g":"a","v":0.12,"j":0.3},{"g":"a","v":0.08,"j":0},
{"g":"b","v":1.55,"j":0.25},{"g":"b","v":0.85,"j":0.05},{"g":"b","v":0.7,"j":-0.25},{"g":"b","v":0.65,"j":0.4},{"g":"b","v":0.6,"j":0.1},{"g":"b","v":0.55,"j":-0.35},{"g":"b","v":0.5,"j":0.35},{"g":"b","v":0.42,"j":-0.05},{"g":"b","v":0.4,"j":0.45},{"g":"b","v":0.3,"j":-0.3},
{"g":"c","v":0.18,"j":0.1},{"g":"c","v":0.15,"j":-0.3},{"g":"c","v":0.13,"j":0.35},{"g":"c","v":0.12,"j":-0.55},{"g":"c","v":0.1,"j":0},{"g":"c","v":0.1,"j":0.55},{"g":"c","v":0.08,"j":-0.3},{"g":"c","v":0.07,"j":0.3},{"g":"c","v":0.05,"j":-0.1},{"g":"c","v":0.04,"j":0.15},
{"g":"d","v":0.42,"j":-0.4},{"g":"d","v":0.4,"j":0.4},{"g":"d","v":0.35,"j":0.05},{"g":"d","v":0.3,"j":-0.3},{"g":"d","v":0.28,"j":0.3},{"g":"d","v":0.2,"j":0},{"g":"d","v":0.15,"j":-0.45},{"g":"d","v":0.12,"j":0.5},{"g":"d","v":0.1,"j":-0.15},{"g":"d","v":0.08,"j":0.2}]},
"mark":{"type":"point","filled":true,"color":"#000","size":20,"opacity":1},
"encoding":{"y":{"field":"v","type":"quantitative","scale":{"domain":[0,2],"nice":false},"axis":{"title":"# CD4Teff per gram (10⁶)","values":[0,0.5,1,1.5,2],"format":".1f","labelOverlap":false}},"xOffset":{"field":"j","type":"quantitative","scale":{"domain":[-1,1]}},"shape":{"field":"g","type":"nominal","scale":{"domain":["a","b","c","d"],"range":["circle","square","triangle-up","triangle-down"]},"legend":null}}},
{"data":{"values":[{"g":"a","v":1.79,"i":0},{"g":"a","v":1.85,"i":1},{"g":"b","v":1.85,"i":2},{"g":"b","v":1.79,"i":3}]},"mark":{"type":"line","color":"#000","strokeWidth":1.2},"encoding":{"y":{"field":"v","type":"quantitative","scale":{"domain":[0,2],"nice":false},"axis":{"title":"# CD4Teff per gram (10⁶)","values":[0,0.5,1,1.5,2],"format":".1f","labelOverlap":false}},"order":{"field":"i","type":"quantitative"}}},
{"data":{"values":[{"g":"a","j":1,"v":1.85,"t":"***"}]},"mark":{"type":"text","baseline":"bottom","dy":-1,"fontSize":13,"color":"#000"},"encoding":{"y":{"field":"v","type":"quantitative","scale":{"domain":[0,2],"nice":false},"axis":{"title":"# CD4Teff per gram (10⁶)","values":[0,0.5,1,1.5,2],"format":".1f","labelOverlap":false}},"xOffset":{"field":"j","type":"quantitative","scale":{"domain":[-1,1]}},"text":{"field":"t"}}}
]}]},
{"title":{"text":"E","dx":-59,"dy":28},"bounds":"flush","spacing":19,"vconcat":[
{"width":158,"height":104,"data":{"values":[{"g":"a","m":2.5,"lo":0.3,"hi":4.7},{"g":"b","m":10.8,"lo":2.6,"hi":19.2},{"g":"c","m":1.4,"lo":0.4,"hi":2.5},{"g":"d","m":1.9,"lo":0.9,"hi":2.9}]},
"encoding":{"x":{"field":"g","type":"nominal","scale":{"type":"band","domain":["a","b","c","d"],"paddingInner":0,"paddingOuter":0},"axis":{"title":null,"labels":false}}},
"layer":[
{"mark":{"type":"rule","color":"#000","strokeWidth":1.4},"encoding":{"y":{"field":"lo","type":"quantitative","scale":{"domain":[0,40],"nice":false},"axis":{"title":"CD8/Treg","values":[0,10,20,30,40],"labelOverlap":false}},"y2":{"field":"hi"}}},
{"mark":{"type":"tick","color":"#000","size":14,"thickness":1.4},"encoding":{"y":{"field":"lo","type":"quantitative","scale":{"domain":[0,40],"nice":false},"axis":{"title":"CD8/Treg","values":[0,10,20,30,40],"labelOverlap":false}}}},
{"mark":{"type":"tick","color":"#000","size":14,"thickness":1.4},"encoding":{"y":{"field":"hi","type":"quantitative","scale":{"domain":[0,40],"nice":false},"axis":{"title":"CD8/Treg","values":[0,10,20,30,40],"labelOverlap":false}}}},
{"mark":{"type":"tick","color":"#000","size":26,"thickness":1.4},"encoding":{"y":{"field":"m","type":"quantitative","scale":{"domain":[0,40],"nice":false},"axis":{"title":"CD8/Treg","values":[0,10,20,30,40],"labelOverlap":false}}}},
{"data":{"values":[
{"g":"a","v":8.7,"j":0},{"g":"a","v":3,"j":-0.2},{"g":"a","v":2.8,"j":0.25},{"g":"a","v":2.5,"j":-0.5},{"g":"a","v":2.3,"j":0.5},{"g":"a","v":2,"j":-0.05},{"g":"a","v":2,"j":0.3},{"g":"a","v":1.8,"j":-0.35},{"g":"a","v":1.5,"j":0.1},{"g":"a","v":1.2,"j":-0.2},
{"g":"b","v":25.5,"j":-0.2},{"g":"b","v":21,"j":-0.15},{"g":"b","v":20,"j":0.1},{"g":"b","v":10.5,"j":-0.1},{"g":"b","v":9.5,"j":0.15},{"g":"b","v":7.5,"j":-0.3},{"g":"b","v":7,"j":0.35},{"g":"b","v":6.5,"j":-0.05},{"g":"b","v":5.5,"j":0.1},{"g":"b","v":2,"j":-0.2},
{"g":"c","v":3.8,"j":0},{"g":"c","v":2,"j":-0.3},{"g":"c","v":1.8,"j":0.3},{"g":"c","v":1.5,"j":-0.05},{"g":"c","v":1.2,"j":-0.55},{"g":"c","v":1.2,"j":0.55},{"g":"c","v":1,"j":0.2},{"g":"c","v":0.8,"j":-0.25},{"g":"c","v":0.6,"j":0.4},{"g":"c","v":0.5,"j":-0.4},
{"g":"d","v":3.5,"j":-0.2},{"g":"d","v":3,"j":0.25},{"g":"d","v":2.8,"j":-0.5},{"g":"d","v":2.5,"j":0.5},{"g":"d","v":2,"j":0},{"g":"d","v":1.8,"j":-0.3},{"g":"d","v":1.5,"j":0.35},{"g":"d","v":1.2,"j":-0.15},{"g":"d","v":1,"j":0.15},{"g":"d","v":0.6,"j":0}]},
"mark":{"type":"point","filled":true,"color":"#000","size":20,"opacity":1},
"encoding":{"y":{"field":"v","type":"quantitative","scale":{"domain":[0,40],"nice":false},"axis":{"title":"CD8/Treg","values":[0,10,20,30,40],"labelOverlap":false}},"xOffset":{"field":"j","type":"quantitative","scale":{"domain":[-1,1]}},"shape":{"field":"g","type":"nominal","scale":{"domain":["a","b","c","d"],"range":["circle","square","triangle-up","triangle-down"]},"legend":null}}},
{"data":{"values":[{"g":"a","v":36.8,"i":0},{"g":"a","v":38,"i":1},{"g":"b","v":38,"i":2},{"g":"b","v":36.8,"i":3}]},"mark":{"type":"line","color":"#000","strokeWidth":1.2},"encoding":{"y":{"field":"v","type":"quantitative","scale":{"domain":[0,40],"nice":false},"axis":{"title":"CD8/Treg","values":[0,10,20,30,40],"labelOverlap":false}},"order":{"field":"i","type":"quantitative"}}},
{"data":{"values":[{"g":"a","j":1,"v":38,"t":"**"}]},"mark":{"type":"text","baseline":"bottom","dy":-1,"fontSize":13,"color":"#000"},"encoding":{"y":{"field":"v","type":"quantitative","scale":{"domain":[0,40],"nice":false},"axis":{"title":"CD8/Treg","values":[0,10,20,30,40],"labelOverlap":false}},"xOffset":{"field":"j","type":"quantitative","scale":{"domain":[-1,1]}},"text":{"field":"t"}}}
]},
{"width":158,"height":107,"data":{"values":[{"g":"a","m":0.86,"lo":0.46,"hi":1.27},{"g":"b","m":2.4,"lo":1.32,"hi":3.45},{"g":"c","m":0.46,"lo":0.38,"hi":0.55},{"g":"d","m":0.67,"lo":0.52,"hi":0.92}]},
"encoding":{"x":{"field":"g","type":"nominal","scale":{"type":"band","domain":["a","b","c","d"],"paddingInner":0,"paddingOuter":0},"axis":{"title":null,"labelAngle":-45,"labelFontSize":12.5,"labelPadding":1,"labelExpr":"datum.value=='a'?'αCTLA-4+Vehicle':datum.value=='b'?'αCTLA-4+Pam3CSK4':datum.value=='c'?'Vehicle':'Pam3CSK4'"}}},
"layer":[
{"mark":{"type":"rule","color":"#000","strokeWidth":1.4},"encoding":{"y":{"field":"lo","type":"quantitative","scale":{"domain":[0,5],"nice":false},"axis":{"title":"CD4Eff/Treg","values":[0,1,2,3,4,5],"labelOverlap":false}},"y2":{"field":"hi"}}},
{"mark":{"type":"tick","color":"#000","size":14,"thickness":1.4},"encoding":{"y":{"field":"lo","type":"quantitative","scale":{"domain":[0,5],"nice":false},"axis":{"title":"CD4Eff/Treg","values":[0,1,2,3,4,5],"labelOverlap":false}}}},
{"mark":{"type":"tick","color":"#000","size":14,"thickness":1.4},"encoding":{"y":{"field":"hi","type":"quantitative","scale":{"domain":[0,5],"nice":false},"axis":{"title":"CD4Eff/Treg","values":[0,1,2,3,4,5],"labelOverlap":false}}}},
{"mark":{"type":"tick","color":"#000","size":26,"thickness":1.4},"encoding":{"y":{"field":"m","type":"quantitative","scale":{"domain":[0,5],"nice":false},"axis":{"title":"CD4Eff/Treg","values":[0,1,2,3,4,5],"labelOverlap":false}}}},
{"data":{"values":[
{"g":"a","v":1.9,"j":0.05},{"g":"a","v":1.0,"j":-0.3},{"g":"a","v":0.9,"j":0.3},{"g":"a","v":0.85,"j":-0.55},{"g":"a","v":0.8,"j":0.55},{"g":"a","v":0.75,"j":0},{"g":"a","v":0.6,"j":-0.4},{"g":"a","v":0.55,"j":0.4},{"g":"a","v":0.45,"j":-0.15},{"g":"a","v":0.4,"j":0.2},
{"g":"b","v":4.1,"j":0.05},{"g":"b","v":3.6,"j":-0.1},{"g":"b","v":3.4,"j":0.25},{"g":"b","v":3.1,"j":-0.05},{"g":"b","v":2.0,"j":-0.1},{"g":"b","v":1.9,"j":-0.2},{"g":"b","v":1.6,"j":0.45},{"g":"b","v":1.55,"j":-0.45},{"g":"b","v":1.45,"j":0.25},{"g":"b","v":1.35,"j":-0.05},
{"g":"c","v":0.6,"j":0.1},{"g":"c","v":0.55,"j":-0.3},{"g":"c","v":0.5,"j":0.35},{"g":"c","v":0.5,"j":-0.55},{"g":"c","v":0.45,"j":0.55},{"g":"c","v":0.45,"j":-0.15},{"g":"c","v":0.42,"j":0.15},{"g":"c","v":0.4,"j":-0.35},{"g":"c","v":0.38,"j":0.35},{"g":"c","v":0.35,"j":0},
{"g":"d","v":0.9,"j":0},{"g":"d","v":0.8,"j":-0.3},{"g":"d","v":0.75,"j":0.35},{"g":"d","v":0.7,"j":-0.55},{"g":"d","v":0.68,"j":0.55},{"g":"d","v":0.65,"j":0.05},{"g":"d","v":0.62,"j":-0.3},{"g":"d","v":0.6,"j":0.3},{"g":"d","v":0.58,"j":-0.1},{"g":"d","v":0.55,"j":0.15}]},
"mark":{"type":"point","filled":true,"color":"#000","size":20,"opacity":1},
"encoding":{"y":{"field":"v","type":"quantitative","scale":{"domain":[0,5],"nice":false},"axis":{"title":"CD4Eff/Treg","values":[0,1,2,3,4,5],"labelOverlap":false}},"xOffset":{"field":"j","type":"quantitative","scale":{"domain":[-1,1]}},"shape":{"field":"g","type":"nominal","scale":{"domain":["a","b","c","d"],"range":["circle","square","triangle-up","triangle-down"]},"legend":null}}},
{"data":{"values":[{"g":"a","v":4.33,"i":0},{"g":"a","v":4.48,"i":1},{"g":"b","v":4.48,"i":2},{"g":"b","v":4.33,"i":3}]},"mark":{"type":"line","color":"#000","strokeWidth":1.2},"encoding":{"y":{"field":"v","type":"quantitative","scale":{"domain":[0,5],"nice":false},"axis":{"title":"CD4Eff/Treg","values":[0,1,2,3,4,5],"labelOverlap":false}},"order":{"field":"i","type":"quantitative"}}},
{"data":{"values":[{"g":"a","j":1,"v":4.48,"t":"***"}]},"mark":{"type":"text","baseline":"bottom","dy":-1,"fontSize":13,"color":"#000"},"encoding":{"y":{"field":"v","type":"quantitative","scale":{"domain":[0,5],"nice":false},"axis":{"title":"CD4Eff/Treg","values":[0,1,2,3,4,5],"labelOverlap":false}},"xOffset":{"field":"j","type":"quantitative","scale":{"domain":[-1,1]}},"text":{"field":"t"}}}
]}]},
{"title":{"text":"F","dx":-66,"dy":24},"bounds":"flush","spacing":19,"vconcat":[
{"width":169,"height":100,"data":{"values":[{"g":"a","m":56.5,"lo":47,"hi":66.5},{"g":"b","m":32.5,"lo":22.5,"hi":42.5},{"g":"c","m":69.5,"lo":65,"hi":74},{"g":"d","m":62,"lo":58,"hi":66}]},
"encoding":{"x":{"field":"g","type":"nominal","scale":{"type":"band","domain":["a","b","c","d"],"paddingInner":0,"paddingOuter":0},"axis":{"title":null,"labels":false}}},
"layer":[
{"mark":{"type":"rule","color":"#000","strokeWidth":1.4},"encoding":{"y":{"field":"lo","type":"quantitative","scale":{"domain":[0,100],"nice":false},"axis":{"title":"Treg ( % of CD4+)","values":[0,20,40,60,80,100],"labelOverlap":false}},"y2":{"field":"hi"}}},
{"mark":{"type":"tick","color":"#000","size":14,"thickness":1.4},"encoding":{"y":{"field":"lo","type":"quantitative","scale":{"domain":[0,100],"nice":false},"axis":{"title":"Treg ( % of CD4+)","values":[0,20,40,60,80,100],"labelOverlap":false}}}},
{"mark":{"type":"tick","color":"#000","size":14,"thickness":1.4},"encoding":{"y":{"field":"hi","type":"quantitative","scale":{"domain":[0,100],"nice":false},"axis":{"title":"Treg ( % of CD4+)","values":[0,20,40,60,80,100],"labelOverlap":false}}}},
{"mark":{"type":"tick","color":"#000","size":26,"thickness":1.4},"encoding":{"y":{"field":"m","type":"quantitative","scale":{"domain":[0,100],"nice":false},"axis":{"title":"Treg ( % of CD4+)","values":[0,20,40,60,80,100],"labelOverlap":false}}}},
{"data":{"values":[
{"g":"a","v":70,"j":0},{"g":"a","v":65,"j":-0.35},{"g":"a","v":63,"j":0.3},{"g":"a","v":62,"j":-0.1},{"g":"a","v":58,"j":-0.5},{"g":"a","v":56,"j":0.45},{"g":"a","v":52,"j":0.05},{"g":"a","v":50,"j":-0.3},{"g":"a","v":46,"j":0.25},{"g":"a","v":34,"j":0},
{"g":"b","v":44,"j":0.1},{"g":"b","v":40,"j":-0.4},{"g":"b","v":39,"j":0.45},{"g":"b","v":37,"j":0},{"g":"b","v":35,"j":-0.3},{"g":"b","v":30,"j":0.45},{"g":"b","v":26,"j":-0.45},{"g":"b","v":24,"j":0.05},{"g":"b","v":22,"j":0.4},{"g":"b","v":20,"j":-0.1},
{"g":"c","v":75,"j":0.25},{"g":"c","v":73,"j":-0.2},{"g":"c","v":72,"j":0.5},{"g":"c","v":70,"j":-0.45},{"g":"c","v":68,"j":0},{"g":"c","v":68,"j":0.45},{"g":"c","v":67,"j":-0.55},{"g":"c","v":65,"j":0.3},{"g":"c","v":64,"j":-0.25},{"g":"c","v":62,"j":0.05},
{"g":"d","v":67,"j":-0.45},{"g":"d","v":66,"j":0.45},{"g":"d","v":65,"j":-0.1},{"g":"d","v":63,"j":0.25},{"g":"d","v":62,"j":-0.55},{"g":"d","v":61,"j":0.55},{"g":"d","v":60,"j":0},{"g":"d","v":59,"j":-0.3},{"g":"d","v":57,"j":0.35},{"g":"d","v":55,"j":-0.1}]},
"mark":{"type":"point","filled":true,"color":"#000","size":20,"opacity":1},
"encoding":{"y":{"field":"v","type":"quantitative","scale":{"domain":[0,100],"nice":false},"axis":{"title":"Treg ( % of CD4+)","values":[0,20,40,60,80,100],"labelOverlap":false}},"xOffset":{"field":"j","type":"quantitative","scale":{"domain":[-1,1]}},"shape":{"field":"g","type":"nominal","scale":{"domain":["a","b","c","d"],"range":["circle","square","triangle-up","triangle-down"]},"legend":null}}},
{"data":{"values":[{"g":"a","v":83.5,"i":0},{"g":"a","v":86.5,"i":1},{"g":"b","v":86.5,"i":2},{"g":"b","v":83.5,"i":3}]},"mark":{"type":"line","color":"#000","strokeWidth":1.2},"encoding":{"y":{"field":"v","type":"quantitative","scale":{"domain":[0,100],"nice":false},"axis":{"title":"Treg ( % of CD4+)","values":[0,20,40,60,80,100],"labelOverlap":false}},"order":{"field":"i","type":"quantitative"}}},
{"data":{"values":[{"g":"a","j":1,"v":86.5,"t":"****"}]},"mark":{"type":"text","baseline":"bottom","dy":-1,"fontSize":13,"color":"#000"},"encoding":{"y":{"field":"v","type":"quantitative","scale":{"domain":[0,100],"nice":false},"axis":{"title":"Treg ( % of CD4+)","values":[0,20,40,60,80,100],"labelOverlap":false}},"xOffset":{"field":"j","type":"quantitative","scale":{"domain":[-1,1]}},"text":{"field":"t"}}}
]},
{"width":169,"height":108,"data":{"values":[{"g":"a","m":3.5,"lo":2.8,"hi":4.2},{"g":"b","m":2.5,"lo":1.9,"hi":3.1},{"g":"c","m":3.6,"lo":3.0,"hi":4.2},{"g":"d","m":4.0,"lo":2.2,"hi":5.8}]},
"encoding":{"x":{"field":"g","type":"nominal","scale":{"type":"band","domain":["a","b","c","d"],"paddingInner":0,"paddingOuter":0},"axis":{"title":null,"labelAngle":-45,"labelFontSize":12.5,"labelPadding":1,"labelExpr":"datum.value=='a'?'αCTLA-4+Vehicle':datum.value=='b'?'αCTLA-4+Pam3CSK4':datum.value=='c'?'Vehicle':'Pam3CSK4'"}}},
"layer":[
{"mark":{"type":"rule","color":"#000","strokeWidth":1.4},"encoding":{"y":{"field":"lo","type":"quantitative","scale":{"domain":[0,10],"nice":false},"axis":{"title":"# Treg per gram (10⁶)","values":[0,2,4,6,8,10],"labelOverlap":false}},"y2":{"field":"hi"}}},
{"mark":{"type":"tick","color":"#000","size":14,"thickness":1.4},"encoding":{"y":{"field":"lo","type":"quantitative","scale":{"domain":[0,10],"nice":false},"axis":{"title":"# Treg per gram (10⁶)","values":[0,2,4,6,8,10],"labelOverlap":false}}}},
{"mark":{"type":"tick","color":"#000","size":14,"thickness":1.4},"encoding":{"y":{"field":"hi","type":"quantitative","scale":{"domain":[0,10],"nice":false},"axis":{"title":"# Treg per gram (10⁶)","values":[0,2,4,6,8,10],"labelOverlap":false}}}},
{"mark":{"type":"tick","color":"#000","size":26,"thickness":1.4},"encoding":{"y":{"field":"m","type":"quantitative","scale":{"domain":[0,10],"nice":false},"axis":{"title":"# Treg per gram (10⁶)","values":[0,2,4,6,8,10],"labelOverlap":false}}}},
{"data":{"values":[
{"g":"a","v":4.8,"j":0},{"g":"a","v":4.5,"j":-0.4},{"g":"a","v":4.2,"j":0.45},{"g":"a","v":4.0,"j":-0.05},{"g":"a","v":3.6,"j":-0.5},{"g":"a","v":3.3,"j":0.35},{"g":"a","v":3.0,"j":-0.15},{"g":"a","v":2.8,"j":0.5},{"g":"a","v":2.5,"j":-0.45},{"g":"a","v":2.2,"j":0.1},
{"g":"b","v":3.5,"j":0.05},{"g":"b","v":3.2,"j":-0.35},{"g":"b","v":2.8,"j":0.35},{"g":"b","v":2.6,"j":-0.1},{"g":"b","v":2.5,"j":-0.55},{"g":"b","v":2.3,"j":0.5},{"g":"b","v":2.0,"j":0.1},{"g":"b","v":1.8,"j":-0.4},{"g":"b","v":1.3,"j":0.2},{"g":"b","v":1.0,"j":-0.05},
{"g":"c","v":4.6,"j":-0.1},{"g":"c","v":4.3,"j":0.35},{"g":"c","v":4.0,"j":-0.45},{"g":"c","v":3.8,"j":0.5},{"g":"c","v":3.7,"j":0.05},{"g":"c","v":3.5,"j":-0.35},{"g":"c","v":3.3,"j":0.35},{"g":"c","v":3.2,"j":-0.05},{"g":"c","v":3.0,"j":0.5},{"g":"c","v":2.7,"j":-0.3},
{"g":"d","v":8.0,"j":0},{"g":"d","v":5.9,"j":0.05},{"g":"d","v":5.6,"j":0.35},{"g":"d","v":4.8,"j":-0.25},{"g":"d","v":4.2,"j":0.3},{"g":"d","v":3.8,"j":-0.35},{"g":"d","v":3.2,"j":0.15},{"g":"d","v":2.4,"j":-0.2},{"g":"d","v":1.8,"j":0.25},{"g":"d","v":1.0,"j":0}]},
"mark":{"type":"point","filled":true,"color":"#000","size":20,"opacity":1},
"encoding":{"y":{"field":"v","type":"quantitative","scale":{"domain":[0,10],"nice":false},"axis":{"title":"# Treg per gram (10⁶)","values":[0,2,4,6,8,10],"labelOverlap":false}},"xOffset":{"field":"j","type":"quantitative","scale":{"domain":[-1,1]}},"shape":{"field":"g","type":"nominal","scale":{"domain":["a","b","c","d"],"range":["circle","square","triangle-up","triangle-down"]},"legend":null}}},
{"data":{"values":[{"g":"a","v":7.5,"i":0},{"g":"a","v":7.8,"i":1},{"g":"b","v":7.8,"i":2},{"g":"b","v":7.5,"i":3}]},"mark":{"type":"line","color":"#000","strokeWidth":1.2},"encoding":{"y":{"field":"v","type":"quantitative","scale":{"domain":[0,10],"nice":false},"axis":{"title":"# Treg per gram (10⁶)","values":[0,2,4,6,8,10],"labelOverlap":false}},"order":{"field":"i","type":"quantitative"}}},
{"data":{"values":[{"g":"a","j":1,"v":7.8,"t":"**"}]},"mark":{"type":"text","baseline":"bottom","dy":-1,"fontSize":13,"color":"#000"},"encoding":{"y":{"field":"v","type":"quantitative","scale":{"domain":[0,10],"nice":false},"axis":{"title":"# Treg per gram (10⁶)","values":[0,2,4,6,8,10],"labelOverlap":false}},"xOffset":{"field":"j","type":"quantitative","scale":{"domain":[-1,1]}},"text":{"field":"t"}}}
]}]}
]}
]}
